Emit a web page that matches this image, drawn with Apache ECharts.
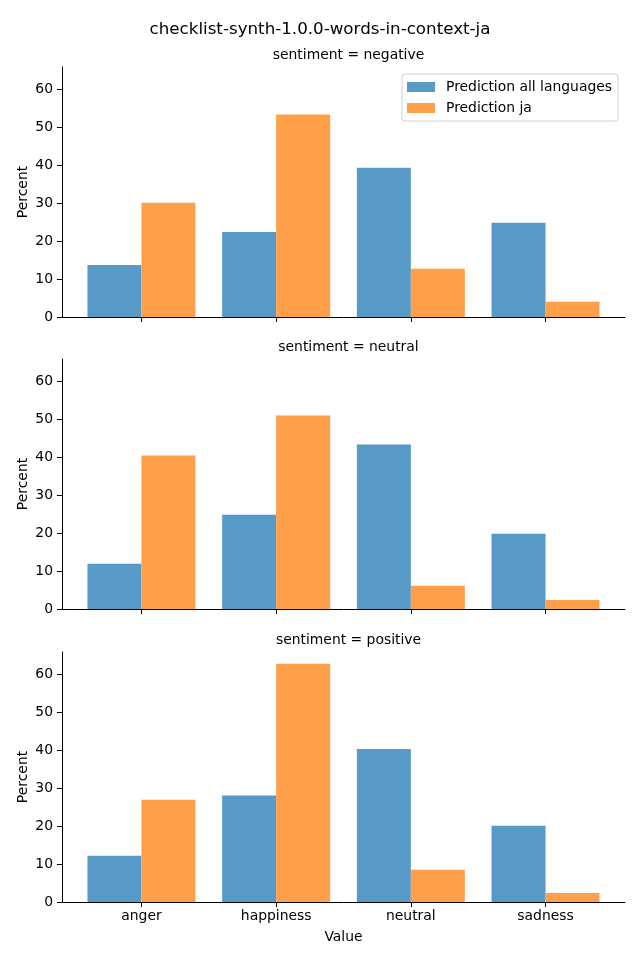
<!DOCTYPE html>
<html><head><meta charset="utf-8">
<script src="https://cdn.jsdelivr.net/npm/echarts@6/dist/echarts.min.js"></script>
<style>html,body{margin:0;padding:0;background:#fff}#c{width:640px;height:960px}</style>
</head><body><div id="c"></div>
<script>
const chartTitle = "checklist-synth-1.0.0-words-in-context-ja";
const categories = ["anger", "happiness", "neutral", "sadness"];
const panelTitles = ["sentiment = negative", "sentiment = neutral", "sentiment = positive"];
const seriesNames = ["Prediction all languages", "Prediction ja"];
const negAll = [13.7, 22.4, 39.3, 24.8];
const negJa  = [30.1, 53.3, 12.7, 4.0];
const neuAll = [11.9, 24.8, 43.3, 19.8];
const neuJa  = [40.4, 50.9, 6.1, 2.4];
const posAll = [12.2, 28.0, 40.3, 20.1];
const posJa  = [26.9, 62.7, 8.5, 2.4];
const yTicks = [0, 10, 20, 30, 40, 50, 60];
const yMax = 65.8;

const panels = [[negAll, negJa], [neuAll, neuJa], [posAll, posJa]];
const colors = ["#5799c7", "#ff9f4a"];
const font = "DejaVu Sans";
const fs = 13.9;
const tops = [67, 359, 652];
const H = 250;
const catIdx = categories.map((c, i) => i);

const grid = tops.map(t => ({left: 62, right: 15, top: t, height: H}));
const xAxis = tops.map((t, i) => ({
  type: "value", gridIndex: i, min: -0.59, max: 3.59,
  splitLine: {show: false},
  axisLine: {show: true, onZero: false, lineStyle: {color: "#000", width: 1}},
  axisTick: {show: true, length: 5, lineStyle: {color: "#000"}, customValues: catIdx},
  axisLabel: {show: i === 2, color: "#000", fontFamily: font, fontSize: fs, margin: 7,
    customValues: catIdx, formatter: v => categories[Math.round(v)]},
  name: i === 2 ? "Value" : "", nameLocation: "middle", nameGap: 28,
  nameTextStyle: {color: "#000", fontFamily: font, fontSize: fs}
}));
const yAxis = tops.map((t, i) => ({
  type: "value", gridIndex: i, min: 0, max: yMax, interval: 10,
  splitLine: {show: false},
  axisLine: {show: true, onZero: false, lineStyle: {color: "#000", width: 1}},
  axisTick: {show: true, length: 5, lineStyle: {color: "#000"}, customValues: yTicks},
  axisLabel: {color: "#000", fontFamily: font, fontSize: fs, margin: 9, customValues: yTicks},
  name: "Percent", nameLocation: "middle", nameGap: 32, nameRotate: 90, nameMoveOverlap: false,
  nameTextStyle: {color: "#000", fontFamily: font, fontSize: fs}
}));
const series = [];
panels.forEach((p, i) => {
  p.forEach((vals, j) => {
    series.push({
      type: "bar", name: seriesNames[j], xAxisIndex: i, yAxisIndex: i,
      data: vals.map((v, k) => [catIdx[k], v]), barGap: "0%", barWidth: 54,
      itemStyle: {color: colors[j]}, silent: true
    });
  });
});
const titles = [{text: chartTitle, left: "center", top: 16,
  textStyle: {color: "#000", fontFamily: font, fontSize: 16.7, fontWeight: "normal"}}];
panelTitles.forEach((txt, i) => titles.push({
  text: txt, left: 343.5, textAlign: "center", top: tops[i] - 24,
  textStyle: {color: "#000", fontFamily: font, fontSize: fs, fontWeight: "normal"}
}));

const chart = echarts.init(document.getElementById("c"), null, {renderer: "canvas"});
chart.setOption({
  animation: false,
  backgroundColor: "#fff",
  title: titles,
  grid, xAxis, yAxis, series,
  legend: {
    data: seriesNames, orient: "vertical", right: 22, top: 74,
    itemWidth: 28, itemHeight: 10, itemGap: 7,
    padding: [6, 6, 6, 5],
    borderColor: "#d0d0d0", borderWidth: 1, borderRadius: 3,
    backgroundColor: "rgba(255,255,255,0.8)",
    textStyle: {color: "#000", fontFamily: font, fontSize: fs, padding: [0, 0, 0, 6]},
    icon: "rect", selectedMode: false
  }
});
</script></body></html>
